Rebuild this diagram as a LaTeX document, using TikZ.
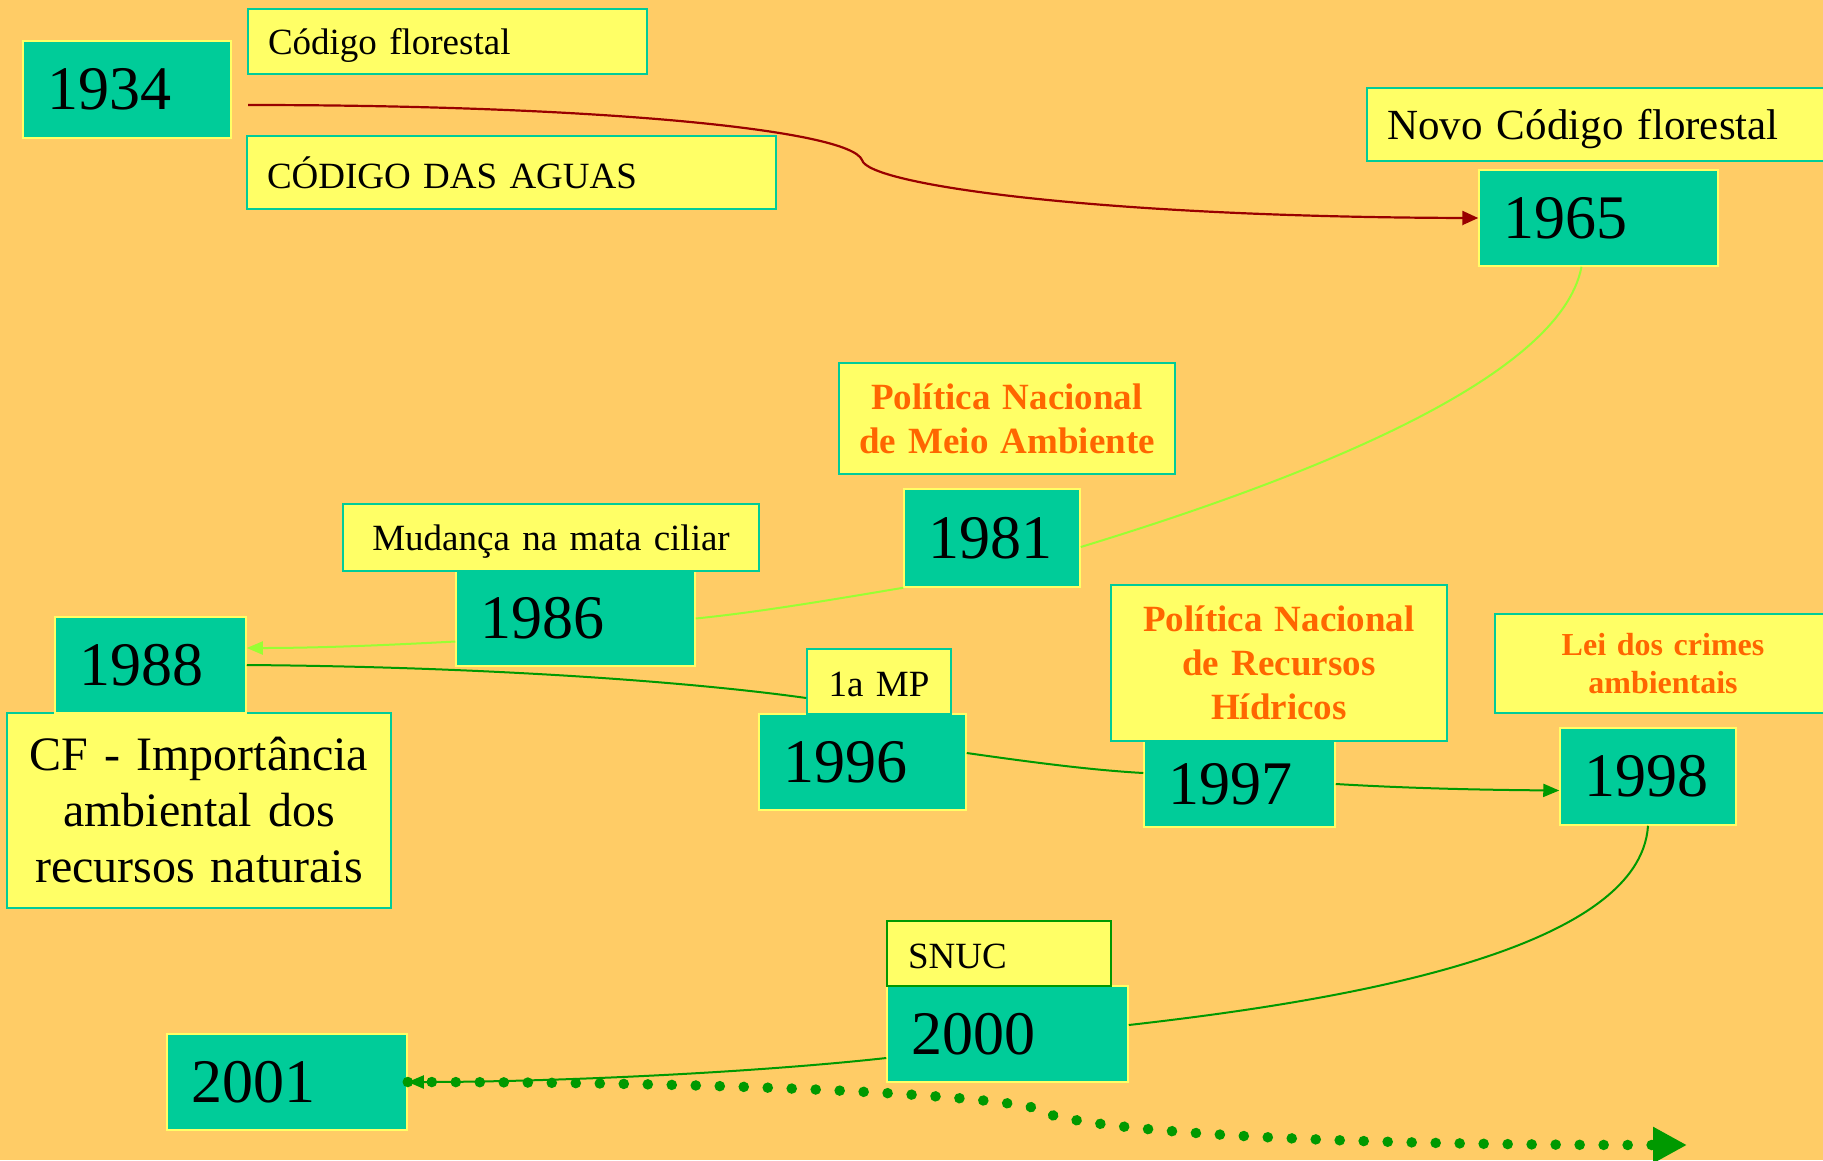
\documentclass[tikz,border=0pt]{standalone}
\usepackage{fontspec}
\setmainfont{Liberation Serif}
\usetikzlibrary{arrows.meta}
\definecolor{bgc}{HTML}{FFCC66}
\definecolor{tealc}{HTML}{00CC99}
\definecolor{yelc}{HTML}{FFFF66}
\definecolor{orc}{HTML}{FF6600}
\definecolor{dredc}{HTML}{990000}
\definecolor{lgc}{HTML}{99FF33}
\definecolor{dgc}{HTML}{009900}
\begin{document}
\begin{tikzpicture}[x=1pt,y=-1pt,
 yearbox/.style={fill=tealc, draw=yelc, line width=1.5pt, font=\fontsize{62}{62}\selectfont, inner xsep=24pt, inner ysep=0pt, align=left},
 labbox/.style={fill=yelc, draw=tealc, line width=1.5pt, font=\fontsize{37}{44}\selectfont, inner xsep=20pt, inner ysep=0pt},
 hilite/.style={font=\fontsize{37}{44}\selectfont\bfseries, text=orc},
 redline/.style={draw=dredc, line width=2.2pt, -{Triangle[length=16pt,width=14pt]}},
 lgline/.style={draw=lgc, line width=2pt},
 dgline/.style={draw=dgc, line width=2pt},
 dgarrow/.style={draw=dgc, line width=2pt, -{Triangle[length=16pt,width=13pt]}},
 lgarrow/.style={draw=lgc, line width=2pt, -{Triangle[length=16pt,width=13pt]}},
 dotline/.style={draw=dgc, line width=10.5pt, line cap=round, dash pattern=on 0.1pt off 23.9pt, -{Triangle[length=34pt,width=34pt]}}
]
\fill[bgc] (0,0) rectangle (1823,1160);
\clip (0,0) rectangle (1823,1160);

% label box under 1988
\node[labbox, font=\fontsize{48}{56}\selectfont, text width=344pt, align=center, minimum height=195pt] (lcfimp) at (199,810.5) {CF - Importância\\ambiental dos\\recursos naturais};

% year boxes
\node[yearbox, text width=160pt, minimum height=97pt] (y1934) at (127,89.5) {1934};
\node[yearbox, text width=191pt, minimum height=96pt] (y1965) at (1598.5,218) {1965};
\node[yearbox, text width=128pt, minimum height=98pt] (y1981) at (992,538) {1981};
\node[yearbox, text width=191pt, minimum height=95pt] (y1986) at (575.5,618.5) {1986};
\node[yearbox, text width=143pt, minimum height=96pt] (y1988) at (150.5,665) {1988};
\node[yearbox, text width=159pt, minimum height=96pt] (y1996) at (862.5,762) {1996};
\node[yearbox, text width=143pt, minimum height=86pt] (y1997) at (1239.5,784) {1997};
\node[yearbox, text width=128pt, minimum height=97pt] (y1998) at (1648,776.5) {1998};
\node[yearbox, text width=193pt, minimum height=96pt] (y2000) at (1007.5,1034) {2000};
\node[yearbox, text width=192pt, minimum height=96pt] (y2001) at (287,1082) {2001};

% label boxes
\node[labbox, text depth=0pt, text width=359pt, align=left, minimum height=65pt] (lcf) at (447.5,41.5) {Código florestal};
\node[labbox, text width=489pt, align=left, minimum height=73pt] (lagua) at (511.5,172.5) {CÓDIGO DAS AGUAS};
\node[labbox, text depth=0pt, font=\fontsize{43}{50}\selectfont, text width=433pt, align=left, minimum height=73pt] (lnovo) at (1603.5,124.5) {Novo Código florestal};
\node[labbox, hilite, inner xsep=10pt, text width=316pt, align=center, minimum height=111pt] (lpnma) at (1007,418.5) {Política Nacional\\de Meio Ambiente};
\node[labbox, text depth=0pt, text width=376pt, align=center, minimum height=67pt] (lmata) at (551,537.5) {Mudança na mata ciliar};
\node[labbox, text height=31pt, inner xsep=10pt, text width=124pt, align=center, minimum height=65pt] (lmp) at (879,681.5) {1a MP};
\node[labbox, hilite, inner xsep=10pt, text width=316pt, align=center, minimum height=156pt] (lpnrh) at (1279,663) {Política Nacional\\de Recursos\\Hídricos};
\node[labbox, hilite, font=\fontsize{32}{38}\selectfont\bfseries, inner xsep=10pt, text width=316pt, align=center, minimum height=99pt] (llei) at (1663,663.5) {Lei dos crimes\\ambientais};
\node[labbox, draw=dgc, text height=31pt, inner xsep=21pt, text width=182pt, align=left, minimum height=65pt] (lsnuc) at (999,953.5) {SNUC};

% connectors
\coordinate (c1934) at (248,105);
\coordinate (dotend) at (1687,1145);
\draw[redline] (c1934) .. controls (600,105) and (850,130) .. (862,160)
  .. controls (868,185) and (1100,217) .. (y1965.west);
\draw[lgline] ([xshift=-17pt]y1965.south) .. controls (1560,380) and (1300,480) .. ([yshift=-9pt]y1981.east);
\draw[lgline] (y1981.south west) .. controls (830,600) and (760,612) .. (y1986.east);
\draw[lgarrow] ([yshift=-23pt]y1986.west) .. controls (390,645) and (320,648) .. ([yshift=17pt]y1988.east);
\draw[dgline] (y1988.east) .. controls (500,667) and (700,683) .. ([yshift=-16.5pt]lmp.west);
\draw[dgline] ([yshift=9pt]y1996.east) .. controls (1030,762) and (1090,770) .. ([yshift=11pt]y1997.west);
\draw[dgarrow] (y1997.east) .. controls (1420,789) and (1500,790) .. ([yshift=-14pt]y1998.west);
\draw[dgline] (y1998.south) .. controls (1640,950) and (1350,1000) .. ([yshift=9pt]y2000.east);
\draw[dgarrow] ([yshift=-24pt]y2000.west) .. controls (750,1073) and (550,1082) .. (y2001.east);
\draw[dotline] (y2001.east) .. controls (750,1082) and (980,1095) .. (1035,1108)
  .. controls (1048,1122) and (1200,1145) .. (dotend);
\end{tikzpicture}
\end{document}
